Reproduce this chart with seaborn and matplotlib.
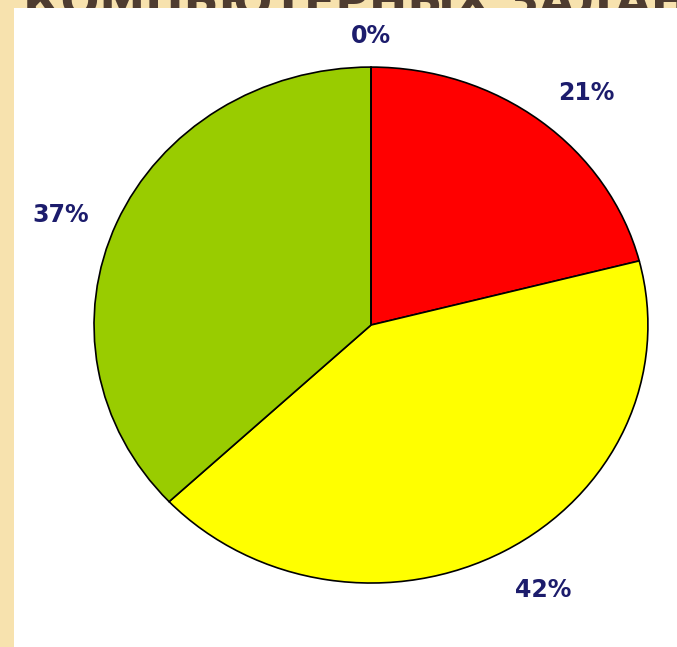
import matplotlib
matplotlib.use("Agg")
import numpy as np
import matplotlib.pyplot as plt
import seaborn as sns

# slice values in percent, clockwise from 12 o'clock
shares = [21, 42, 37, 0]
slice_colors = ['#ff0000', '#ffff00', '#99cc00', '#3366cc']
title_text = 'КОМПЬЮТЕРНЫХ ЗАДАНИЙ'

sns.set_theme(style="white")
plt.rcParams['font.family'] = ['DejaVu Sans']

fig = plt.figure(figsize=(6.77, 6.47), dpi=100)
fig.patch.set_facecolor('#f7e2ae')

# slide title sits on a background layer, mostly hidden by the white panel
bg = fig.add_axes([0, 0, 1, 1], zorder=0)
bg.axis('off')
bg.set_xlim(0, 1)
bg.set_ylim(0, 1)
bg.text(23 / 677, 1 - 16 / 647, title_text, fontsize=33, fontweight='bold',
        color='#4e3c30', ha='left', va='baseline', clip_on=False)

ax = fig.add_axes([14 / 677, 0, 663 / 677, 639 / 647], zorder=1)

wedges, texts = ax.pie(
    shares, colors=slice_colors, startangle=90, counterclock=False,
    wedgeprops=dict(edgecolor='black', linewidth=1.2))

# pie() switches the frame off, bring the white panel back
ax.set_frame_on(True)
ax.set_facecolor('white')
for s in ax.spines.values():
    s.set_visible(False)

# percentage labels outside the rim
label_dist = [1.19, 1.2, 1.2, 1.12]
label_nudge = [-3, 2.5, 2.5, 0]
total = sum(shares)
for w, v, d, n in zip(wedges, shares, label_dist, label_nudge):
    mid = np.deg2rad((w.theta1 + w.theta2) / 2 + n)
    ax.text(d * np.cos(mid), d * np.sin(mid), f"{v / total * 100:.0f}%",
            ha='center', va='center', color='#1c1c6c',
            fontsize=17, fontweight='bold')

ax.set_aspect('auto')
ax.set_xlim(-1.289, 1.105)
ax.set_ylim(-1.248, 1.229)
ax.set_xticks([])
ax.set_yticks([])

fig.savefig('out.png', dpi=100, facecolor=fig.get_facecolor())
